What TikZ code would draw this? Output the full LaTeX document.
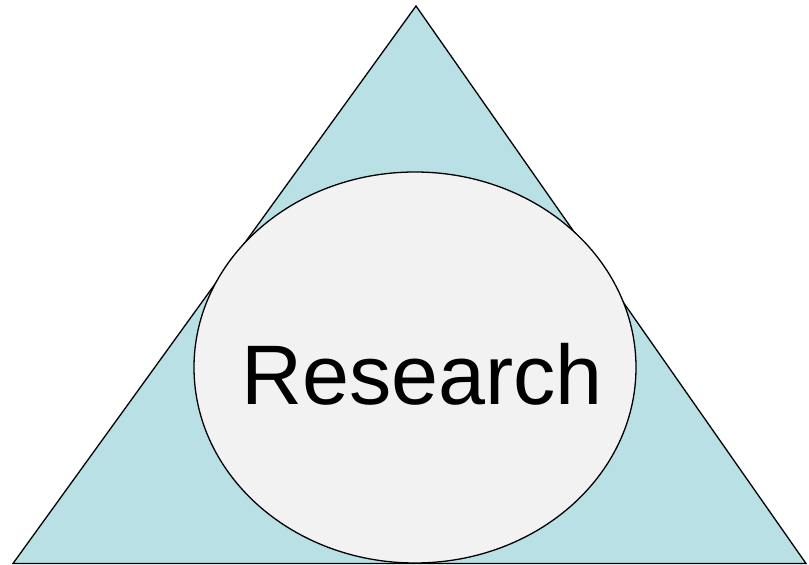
\documentclass[tikz,border=0pt]{standalone}
\usepackage{fontspec}
\setmainfont{Liberation Sans}
\definecolor{tri}{RGB}{185,224,228}
\definecolor{ell}{RGB}{242,242,242}
\begin{document}
\begin{tikzpicture}[x=1pt,y=1pt,
  shapeline/.style={draw=black,line width=1.3pt,line join=miter}]
\useasboundingbox (0,0) rectangle (809,565);
\coordinate (apex) at (416,559);
\coordinate (bl) at (13,1.5);
\coordinate (br) at (806,1.5);
\filldraw[shapeline,fill=tri] (apex) -- (br) -- (bl) -- cycle;
\filldraw[shapeline,fill=ell] (415,197.5) ellipse [x radius=221, y radius=195.5];
\node[anchor=base,inner sep=0pt,font=\fontsize{84.5}{90}\selectfont] (research) at (422,160) {Research};
\end{tikzpicture}
\end{document}
